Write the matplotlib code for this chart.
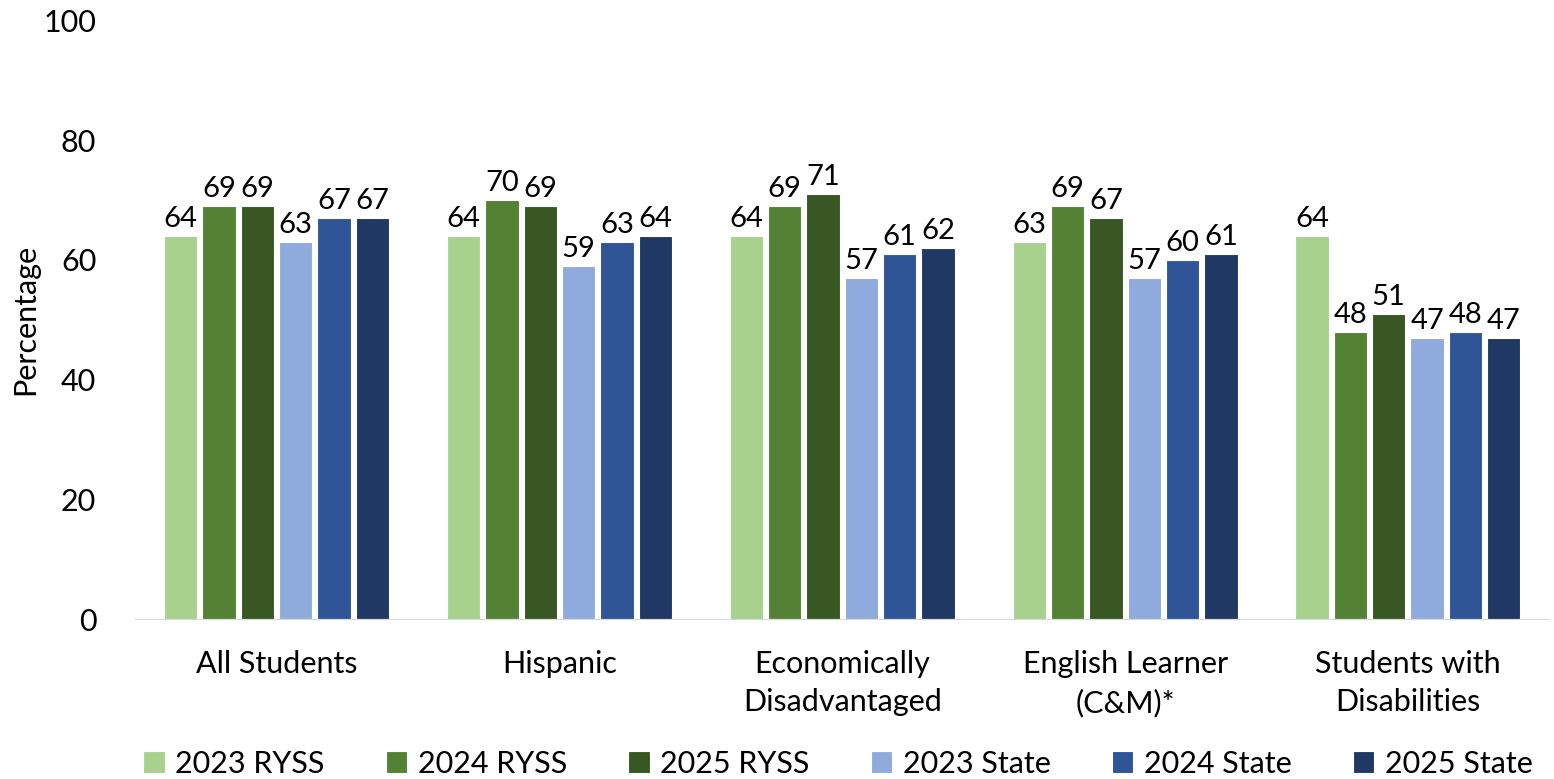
import numpy as np
from matplotlib import pyplot as plt

plt.rcParams['font.family'] = ['Lato', 'DejaVu Sans']

categories = ['All Students', 'Hispanic', 'Economically\nDisadvantaged',
              'English Learner\n(C&M)*', 'Students with\nDisabilities']
series_names = ['2023 RYSS', '2024 RYSS', '2025 RYSS',
                '2023 State', '2024 State', '2025 State']
ryss_2023 = [64, 64, 64, 63, 64]
ryss_2024 = [69, 70, 69, 69, 48]
ryss_2025 = [69, 69, 71, 67, 51]
state_2023 = [63, 59, 57, 57, 47]
state_2024 = [67, 63, 61, 60, 48]
state_2025 = [67, 64, 62, 61, 47]
colors = ['#A9D18E', '#548235', '#385723', '#8FAADC', '#2F5597', '#203864']


def main():
    series = [ryss_2023, ryss_2024, ryss_2025, state_2023, state_2024, state_2025]
    fig = plt.figure(figsize=(15.54, 7.79), dpi=100)
    ax = fig.add_axes([0.087, 0.205, 0.91, 0.769])

    x = np.arange(len(categories))
    pitch = 0.1355
    width = 0.118
    for i, (name, vals, c) in enumerate(zip(series_names, series, colors)):
        pos = x + (i - 2.5) * pitch
        bars = ax.bar(pos, vals, width, color=c, label=name,
                      edgecolor='white', linewidth=0.8)
        for b, v in zip(bars, vals):
            ax.text(b.get_x() + b.get_width() / 2, v + 0.6, str(v),
                    ha='center', va='bottom', fontsize=21)

    ax.set_xlim(-0.5, 4.5)
    ax.set_ylim(0, 100)
    ax.set_yticks(range(0, 101, 20))
    ax.tick_params(axis='y', length=0, labelsize=22, pad=28)
    ax.tick_params(axis='x', length=0, labelsize=22, pad=22)
    ax.set_xticks(x)
    ax.set_xticklabels(categories, linespacing=1.45)
    ax.set_ylabel('Percentage', fontsize=22)
    ax.yaxis.set_label_coords(-0.068, 0.5)
    for s in ['top', 'right', 'left']:
        ax.spines[s].set_visible(False)
    ax.spines['bottom'].set_color('#D9D9D9')

    ax.legend(loc='lower center', bbox_to_anchor=(0.497, -0.285), ncol=6,
              frameon=False, fontsize=22, handlelength=0.7, handleheight=0.7,
              handletextpad=0.35, columnspacing=2.0, borderaxespad=0)

    fig.savefig('out.png', dpi=100)


if __name__ == '__main__':
    main()
